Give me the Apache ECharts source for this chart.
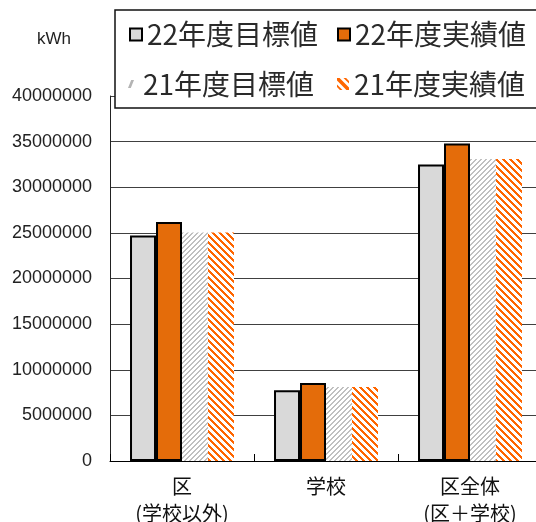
<!DOCTYPE html>
<html>
<head>
<meta charset="utf-8">
<script src="https://cdn.jsdelivr.net/npm/echarts@6/dist/echarts.min.js"></script>
<style>
  html, body { margin: 0; padding: 0; background: #fff; }
  #chart { width: 536px; height: 522px; }
</style>
</head>
<body>
<div id="chart"></div>
<script>
// Electricity use (kWh) by area, FY22 target/actual vs FY21 target/actual
const categories = ['区\n(学校以外)', '学校', '区全体\n(区＋学校)'];
const target22 = [24700000, 7760000, 32500000];
const actual22 = [26200000, 8550000, 34800000];
const target21 = [25050000, 8100000, 33100000];
const actual21 = [25050000, 8100000, 33100000];
const seriesNames = ['22年度目標値', '22年度実績値', '21年度目標値', '21年度実績値'];
const yTicks = { min: 0, max: 40000000, interval: 5000000 };
const unitLabel = 'kWh';

// Pixel-crisp diagonal hatch tile on a white ground
function hatch(size, color, width, forward) {
  const c = document.createElement('canvas');
  c.width = size; c.height = size;
  const g = c.getContext('2d');
  g.fillStyle = '#fff';
  g.fillRect(0, 0, size, size);
  g.fillStyle = color;
  for (let y = 0; y < size; y++) {
    const start = forward ? (size - 1 - y) : y;   // "/" or "\" stripes
    for (let w = 0; w < width; w++) {
      g.fillRect((start + w) % size, y, 1, 1);
    }
  }
  return { image: c, repeat: 'repeat' };
}

const grayHatch = hatch(5, '#c0c0c0', 2, true);
const orangeHatch = hatch(7, '#ff6600', 3, false);

const CJK = '"Noto Sans CJK JP", "Noto Sans", sans-serif';
const legendText = { fontFamily: CJK, fontSize: 28, color: '#2a2a2a', lineHeight: 30 };

function legendAt(left, top, item, extra) {
  return Object.assign({
    left: left, top: top, padding: 0, itemWidth: 12, itemHeight: 12,
    selectedMode: false, data: [item], textStyle: Object.assign({}, legendText), z: 5
  }, extra || {});
}

const chart = echarts.init(document.getElementById('chart'), null, { renderer: 'canvas' });

chart.setOption({
  animation: false,
  backgroundColor: '#fff',
  grid: { left: 110, right: -6, top: 96, bottom: 61, containLabel: false, outerBoundsMode: 'none' },
  graphic: [
    {
      type: 'rect', z: 3,
      shape: { x: 115, y: 10, width: 440, height: 98 },
      style: { fill: '#fff', stroke: '#111', lineWidth: 1.5 }
    },
    {
      type: 'text', z: 3, left: 37, top: 31,
      style: { text: unitLabel, font: '17px "Liberation Sans", Arial, sans-serif', fill: '#222' }
    }
  ],
  legend: [
    legendAt(129, 19.5, { name: seriesNames[0], icon: 'rect',
      itemStyle: { color: '#d9d9d9', borderColor: '#000', borderWidth: 2 } }),
    legendAt(337, 19.5, { name: seriesNames[1], icon: 'rect',
      itemStyle: { color: '#e46c0a', borderColor: '#000', borderWidth: 2 } }),
    legendAt(128, 69, { name: seriesNames[2], icon: 'path://M0,8 L2.8,8 L6,0 L3.2,0 Z',
      itemStyle: { color: '#b4b4b4', borderWidth: 0 } },
      { itemWidth: 6, itemHeight: 8, textStyle: Object.assign({}, legendText, { padding: [0, 0, 0, 4] }) }),
    legendAt(337, 69, { name: seriesNames[3],
      icon: 'path://M0,0 L2.6,0 L12,9.4 L12,12 L9.4,12 L0,2.6 Z M0,6.5 L5.5,12 L2.9,12 L0,9.1 Z M6.5,0 L9.1,0 L12,2.9 L12,5.5 Z',
      itemStyle: { color: '#ff6600', borderWidth: 0 } })
  ],
  xAxis: {
    type: 'category',
    data: categories,
    axisLine: { lineStyle: { color: '#000', width: 1 } },
    axisTick: { show: true, inside: true, length: 7, alignWithLabel: false, lineStyle: { color: '#000' } },
    axisLabel: {
      interval: 0, margin: 12, color: '#111',
      fontFamily: CJK, fontSize: 20, lineHeight: 27
    },
    splitLine: { show: false }
  },
  yAxis: {
    type: 'value',
    min: yTicks.min, max: yTicks.max, interval: yTicks.interval,
    axisLine: { show: true, lineStyle: { color: '#222', width: 1 } },
    axisTick: { show: false },
    axisLabel: {
      margin: 18, color: '#222',
      fontFamily: '"Liberation Sans", Arial, sans-serif', fontSize: 18,
      formatter: v => String(v)
    },
    splitLine: { show: true, lineStyle: { color: '#404040', width: 1 } }
  },
  series: [
    {
      name: seriesNames[0], type: 'bar', data: target22,
      barGap: '0%', barCategoryGap: '27.8%',
      itemStyle: { color: '#d9d9d9', borderColor: '#000', borderWidth: 2 }
    },
    {
      name: seriesNames[1], type: 'bar', data: actual22,
      itemStyle: { color: '#e46c0a', borderColor: '#000', borderWidth: 2 }
    },
    {
      name: seriesNames[2], type: 'bar', data: target21,
      itemStyle: { color: grayHatch, borderWidth: 0 }
    },
    {
      name: seriesNames[3], type: 'bar', data: actual21,
      itemStyle: { color: orangeHatch, borderWidth: 0 }
    }
  ]
});
</script>
</body>
</html>
